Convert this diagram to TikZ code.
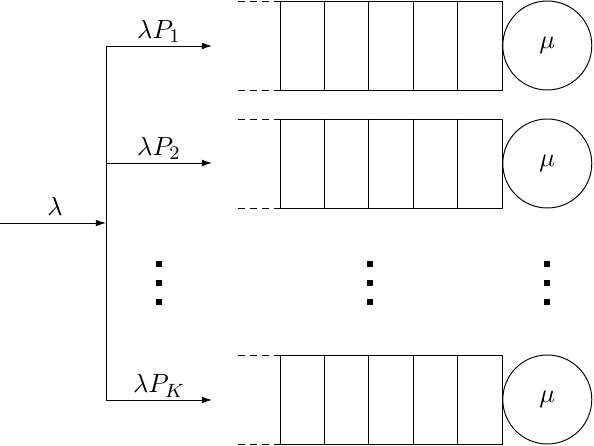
\documentclass[tikz,border=0pt]{standalone}
\usetikzlibrary{arrows.meta}
\begin{document}
\begin{tikzpicture}[x=0.4167pt,y=-0.4167pt,
  font=\fontsize{11}{13}\selectfont,
  flow/.style={-{Latex[length=4.2pt,width=2.8pt]}},
  lbl/.style={anchor=base,inner sep=0},
  server/.style={circle,draw,minimum size=37.08pt,inner sep=0},
  qdash/.style={dash pattern=on 3pt off 2pt},
  vdot/.style={fill=black,minimum size=2.5pt,inner sep=0}]
\useasboundingbox (0,0) rectangle (594,446);
% queues and servers
\foreach \n/\t in {1/1,2/119,3/355} {
  \draw (280,\t) rectangle (502,\t+89);
  \foreach \i in {1,...,4} \draw (280+44.4*\i,\t) -- ++(0,89);
  \draw[qdash] (238,\t) -- (280,\t);
  \draw[qdash] (238,\t+89) -- (280,\t+89);
  \node[server] (s\n) at (547.3,\t+44.5) {$\mu$};
}
% splitting
\coordinate (in) at (0,223);
\coordinate (split) at (106,223);
\coordinate (b1) at (106,46);
\coordinate (b2) at (106,163);
\coordinate (b3) at (106,400);
\coordinate (e1) at (212,46);
\coordinate (e2) at (212,163);
\coordinate (e3) at (212,400);
\draw[flow] (in) -- (split);
\draw (b1) -- (b3);
\draw[flow] (b1) -- (e1);
\draw[flow] (b2) -- (e2);
\draw[flow] (b3) -- (e3);
\node[lbl] (l0) at (55,216) {$\lambda$};
\node[lbl] (l1) at (159,39) {$\lambda P_1$};
\node[lbl] (l2) at (159,156) {$\lambda P_2$};
\node[lbl] (l3) at (159,393) {$\lambda P_K$};
% vertical dots
\foreach \x [count=\c] in {159,370,547.3} {
  \foreach \y [count=\r] in {264.5,283.5,302.5}
    \node[vdot] (d\c\r) at (\x,\y) {};
}
\end{tikzpicture}
\end{document}
